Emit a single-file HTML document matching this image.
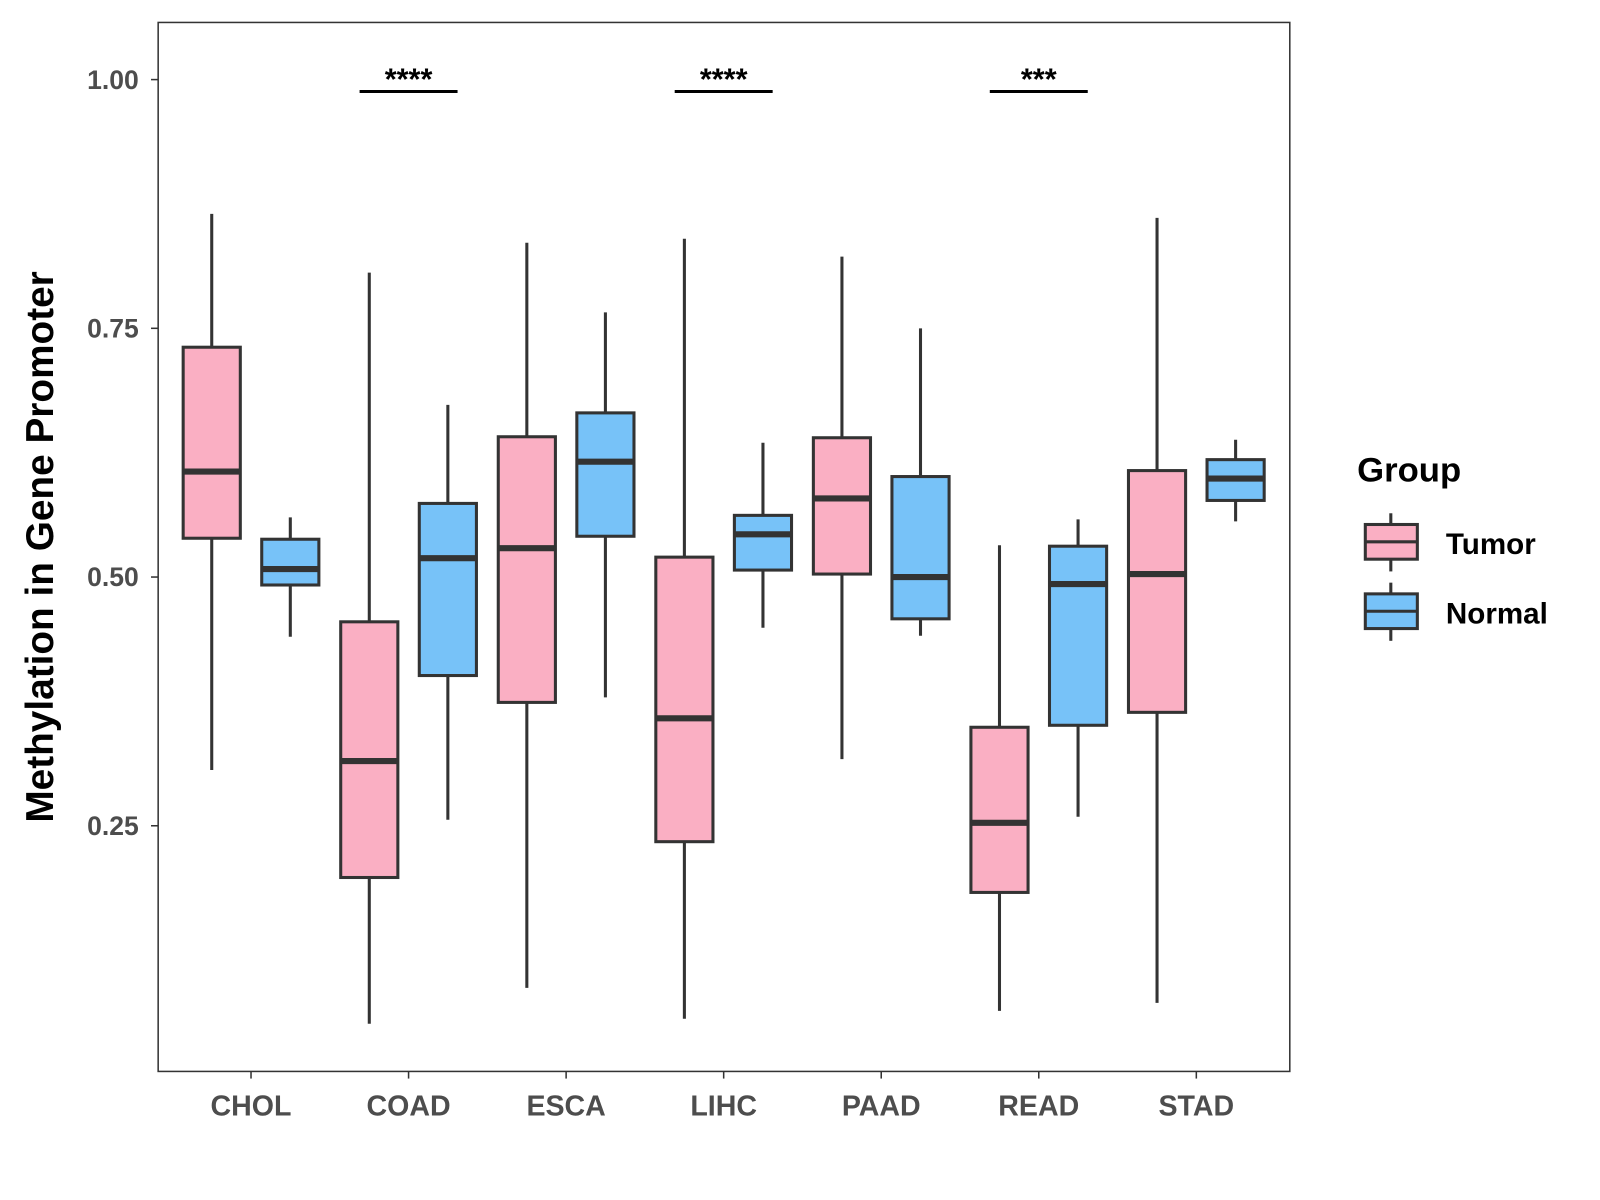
<!DOCTYPE html>
<html><head><meta charset="utf-8"><style>
html,body{margin:0;padding:0;background:#fff;}
svg{display:block;}
svg text{font-family:"Liberation Sans",Arial,sans-serif;}
</style></head><body>
<svg id="chart" width="1600" height="1200" viewBox="0 0 1568 1176" xmlns="http://www.w3.org/2000/svg">
<rect x="0" y="0" width="1568" height="1176" fill="#fff"/>
<rect x="155" y="22" width="1109" height="1028" fill="none" stroke="#333" stroke-width="1.5"/>
<g id="yaxis"></g>
<g id="xaxis"></g>
<g id="boxes"></g>
<g id="sig"></g>
<text x="52" y="536" transform="rotate(-90 52 536)" text-anchor="middle" font-size="38" font-weight="bold" fill="#000">Methylation in Gene Promoter</text>
<g>
<text x="1330" y="472" font-size="34" font-weight="bold" fill="#000">Group</text>
<g>
<line x1="1363" y1="503" x2="1363" y2="560" stroke="#333" stroke-width="3"/>
<rect x="1338" y="514" width="51" height="34" fill="#FAAFC3" stroke="#333" stroke-width="3"/>
<line x1="1338" y1="531" x2="1389" y2="531" stroke="#333" stroke-width="3"/>
<text x="1417" y="543" font-size="29" font-weight="bold" fill="#000">Tumor</text>
</g>
<g>
<line x1="1363" y1="571" x2="1363" y2="628" stroke="#333" stroke-width="3"/>
<rect x="1338" y="582" width="51" height="34" fill="#77C2F8" stroke="#333" stroke-width="3"/>
<line x1="1338" y1="599" x2="1389" y2="599" stroke="#333" stroke-width="3"/>
<text x="1417" y="611" font-size="29" font-weight="bold" fill="#000">Normal</text>
</g>
</g>
</svg>
<script>
const categories=["CHOL","COAD","ESCA","LIHC","PAAD","READ","STAD"];
const tumorLow=[0.306,0.051,0.087,0.056,0.317,0.064,0.072];
const tumorQ1=[0.539,0.198,0.374,0.234,0.503,0.183,0.364];
const tumorMed=[0.606,0.315,0.529,0.358,0.579,0.253,0.503];
const tumorQ3=[0.731,0.455,0.641,0.520,0.640,0.349,0.607];
const tumorHigh=[0.865,0.806,0.836,0.840,0.822,0.532,0.861];
const normalLow=[0.440,0.256,0.379,0.449,0.441,0.259,0.556];
const normalQ1=[0.492,0.401,0.541,0.507,0.458,0.351,0.577];
const normalMed=[0.508,0.519,0.616,0.543,0.500,0.493,0.599];
const normalQ3=[0.538,0.574,0.665,0.562,0.601,0.531,0.618];
const normalHigh=[0.560,0.673,0.766,0.635,0.750,0.558,0.638];
const yTicks=[0.25,0.50,0.75,1.00];
const yTickLabels=["0.25","0.50","0.75","1.00"];
const sigCats=["COAD","LIHC","READ"];
const sigLabels=["****","****","***"];
const sigLevel=0.988;

const NS="http://www.w3.org/2000/svg";
function y(v){return 78+(1-v)*975;}
function x(i){return 246+i*154.4;}
function mk(tag,attrs,parent,txt){const e=document.createElementNS(NS,tag);for(const k in attrs)e.setAttribute(k,attrs[k]);if(txt!==undefined)e.textContent=txt;parent.appendChild(e);return e;}
const ya=document.getElementById('yaxis'),xa=document.getElementById('xaxis'),bx=document.getElementById('boxes'),sg=document.getElementById('sig');
yTicks.forEach((t,i)=>{
 const l=mk('line',{x1:148,x2:155,y1:y(t),y2:y(t),stroke:'#333','stroke-width':1.5},ya);
 
 
 const tx=mk('text',{x:136,y:y(t)+9,'text-anchor':'end','font-size':26,'font-weight':'bold',fill:'#4d4d4d'},ya,yTickLabels[i]);
 
 
});
categories.forEach((c,i)=>{
 const l=mk('line',{x1:x(i),x2:x(i),y1:1050,y2:1057,stroke:'#333','stroke-width':1.5},xa);
 
 
 const tx=mk('text',{x:x(i),y:1093,'text-anchor':'middle','font-size':28,'font-weight':'bold',fill:'#4d4d4d'},xa,c);
 
 
});
function box(cx,lo,q1,md,q3,hi,fill,name){
 const g=mk('g',{},bx);
 
 
 mk('line',{x1:cx,x2:cx,y1:y(hi),y2:y(lo),stroke:'#333','stroke-width':3},g);
 mk('rect',{x:cx-28,y:y(q3),width:56,height:y(q1)-y(q3),fill:fill,stroke:'#333','stroke-width':3},g);
 mk('line',{x1:cx-28,x2:cx+28,y1:y(md),y2:y(md),stroke:'#333','stroke-width':6},g);
}
categories.forEach((c,i)=>{
 box(x(i)-38.5,tumorLow[i],tumorQ1[i],tumorMed[i],tumorQ3[i],tumorHigh[i],'#FAAFC3','box-tumor-'+c.toLowerCase());
 box(x(i)+38.5,normalLow[i],normalQ1[i],normalMed[i],normalQ3[i],normalHigh[i],'#77C2F8','box-normal-'+c.toLowerCase());
});
sigCats.forEach((c,k)=>{
 const i=categories.indexOf(c);
 const l=mk('line',{x1:x(i)-48,x2:x(i)+48,y1:y(sigLevel),y2:y(sigLevel),stroke:'#000','stroke-width':3},sg);
 
 
 const t=mk('text',{x:x(i),y:y(sigLevel)-2,'text-anchor':'middle','font-size':30,'font-weight':'bold',fill:'#000'},sg,sigLabels[k]);
 
 
});
</script>
</body></html>
